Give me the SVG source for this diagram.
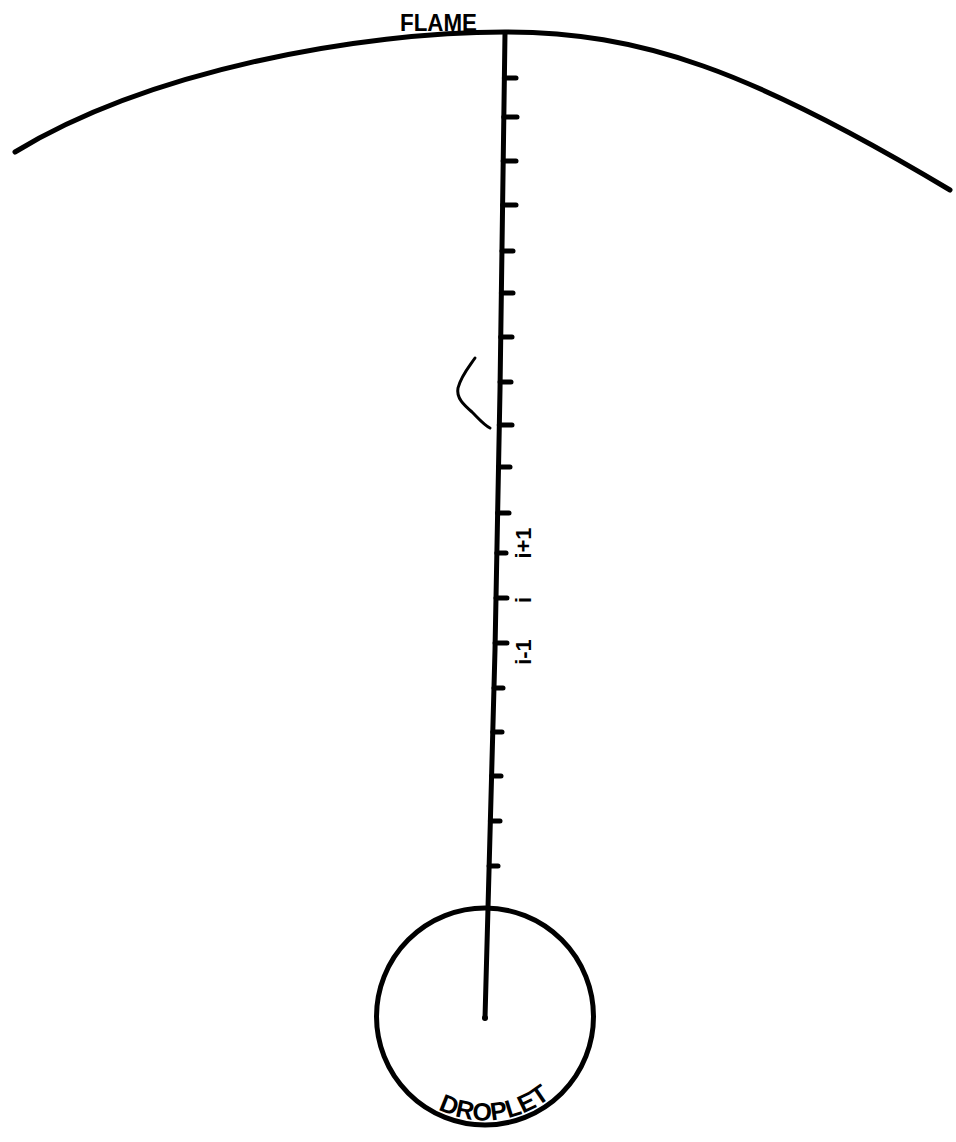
<svg xmlns="http://www.w3.org/2000/svg" width="956" height="1142" viewBox="0 0 956 1142">
<style>
.stroke{fill:none;stroke:#000;stroke-linecap:round;stroke-linejoin:round}
.lbl{font-family:"Liberation Sans",Arial,sans-serif;font-weight:bold;fill:#000}
.tick{stroke:#000;stroke-width:5;stroke-linecap:round}
</style>
<defs>
<path id="dropPath" d="M 381 1016.5 A 104 104 0 0 0 589 1016.5"/>
</defs>
<rect x="0" y="0" width="956" height="1142" fill="#fff"/>
<g id="flame">
<path class="stroke" stroke-width="5" d="M 15 152 C 150 70 360 32 505 32 C 640 32 750 70 950 190"/>
<text class="lbl" x="400" y="31" font-size="23" textLength="77" lengthAdjust="spacingAndGlyphs">FLAME</text>
</g>
<g id="connectors">
<polyline class="stroke" stroke-width="5" points="505,33 500,390 495,650 488,908 485,1018"/>
<circle cx="485" cy="1018" r="3" fill="#000"/>
<g id="ticks">
<line class="tick" x1="504.4" y1="78" x2="516" y2="78"/>
<line class="tick" x1="503.8" y1="117" x2="517" y2="117"/>
<line class="tick" x1="503.2" y1="161" x2="516" y2="161"/>
<line class="tick" x1="502.6" y1="205" x2="516" y2="205"/>
<line class="tick" x1="502.0" y1="251" x2="513" y2="251"/>
<line class="tick" x1="501.4" y1="293" x2="513" y2="293"/>
<line class="tick" x1="500.7" y1="337" x2="512" y2="337"/>
<line class="tick" x1="500.1" y1="382" x2="511" y2="382"/>
<line class="tick" x1="499.3" y1="425" x2="512" y2="425"/>
<line class="tick" x1="498.5" y1="467" x2="510" y2="467"/>
<line class="tick" x1="497.6" y1="513" x2="509" y2="513"/>
<line class="tick" x1="496.9" y1="553" x2="506" y2="553"/>
<line class="tick" x1="496.0" y1="598" x2="507" y2="598"/>
<line class="tick" x1="495.1" y1="643" x2="507" y2="643"/>
<line class="tick" x1="494.0" y1="688" x2="503" y2="688"/>
<line class="tick" x1="492.8" y1="732" x2="502" y2="732"/>
<line class="tick" x1="491.6" y1="776" x2="501" y2="776"/>
<line class="tick" x1="490.4" y1="821" x2="500" y2="821"/>
<line class="tick" x1="489.1" y1="866" x2="498" y2="866"/>
</g>
<path class="stroke" stroke-width="3" d="M 475 358 C 468 368 461 376 458 388 C 456 398 464 405 472 412 C 479 419 484 425 490 428"/>
</g>
<g id="index-labels">
<text class="lbl" font-size="22" text-anchor="middle" transform="translate(531,543) rotate(-90)">i+1</text>
<text class="lbl" font-size="22" text-anchor="middle" transform="translate(531,600) rotate(-90)">i</text>
<text class="lbl" font-size="22" text-anchor="middle" transform="translate(531,652) rotate(-90)">i-1</text>
</g>
<g id="droplet">
<circle class="stroke" stroke-width="5" cx="485" cy="1016.5" r="108.5"/>
<text class="lbl" font-size="25"><textPath href="#dropPath" startOffset="174" text-anchor="middle">DROPLET</textPath></text>
</g>
</svg>
